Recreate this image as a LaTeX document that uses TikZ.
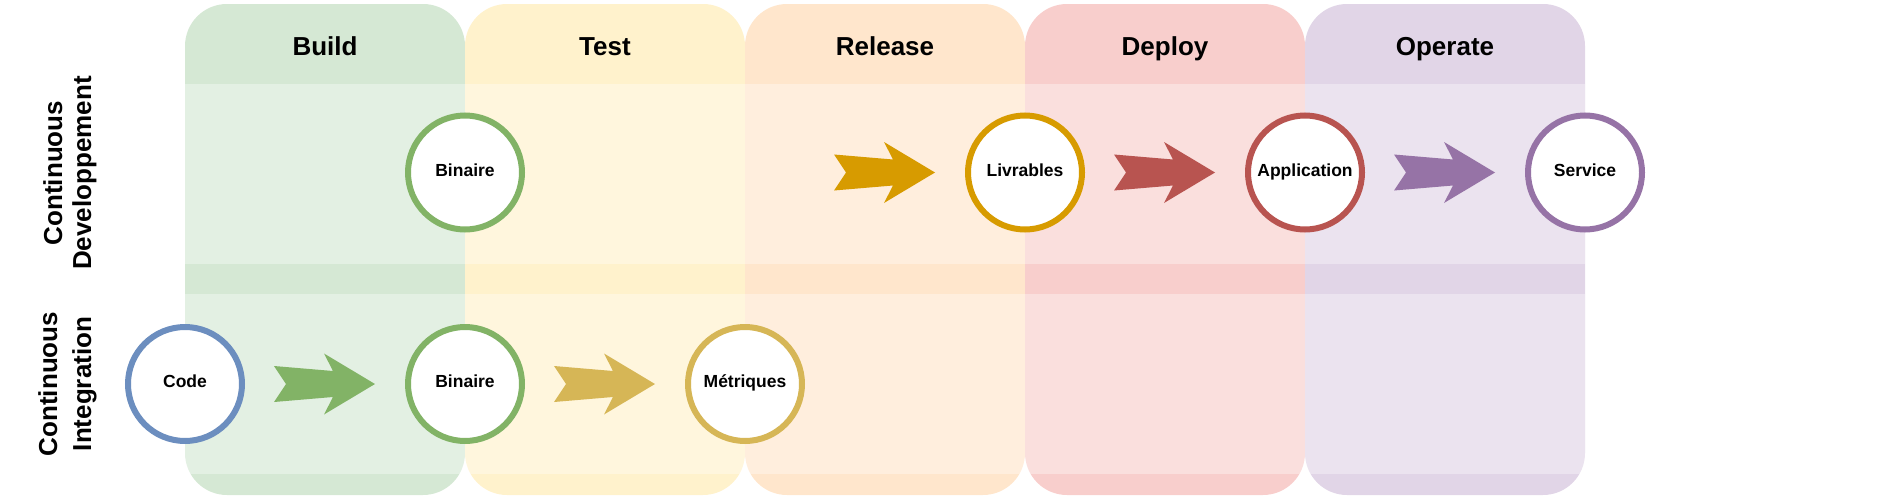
\documentclass[tikz,border=0pt]{standalone}
\usepackage{fontspec}
\setmainfont{Liberation Sans}
\usetikzlibrary{calc}
\definecolor{gF}{HTML}{D5E8D4}
\definecolor{yF}{HTML}{FFF2CC}
\definecolor{oF}{HTML}{FFE6CC}
\definecolor{rF}{HTML}{F8CECC}
\definecolor{pF}{HTML}{E1D5E7}
\definecolor{gS}{HTML}{82B366}
\definecolor{yS}{HTML}{D6B656}
\definecolor{oS}{HTML}{D79B00}
\definecolor{rS}{HTML}{B85450}
\definecolor{pS}{HTML}{9673A6}
\definecolor{bS}{HTML}{6C8EBF}
\begin{document}
\begin{tikzpicture}[x=1pt,y=-1pt,
  col/.style={rounded corners=42pt},
  hdr/.style={font=\fontsize{26}{30}\selectfont\bfseries, anchor=base},
  side/.style={font=\fontsize{26}{30}\selectfont\bfseries, anchor=base, rotate=90},
  stage/.style={circle, draw=#1, line width=6pt, fill=white, minimum size=114pt,
    inner sep=0pt, font=\fontsize{17.5}{20}\selectfont\bfseries,
    text height=0.72em, text depth=0pt},
  fatarrow/.pic={\fill[#1] (0,-18) -- (59,-13) -- (50,-30.5) -- (101,0) -- (50,30.5) -- (59,13) -- (0,18) -- (12,0) -- cycle;}
]
\useasboundingbox (0,0) rectangle (1883,498);
% columns
\fill[gF, col] (185,4) rectangle (465,495);
\fill[yF, col] (465,4) rectangle (745,495);
\fill[oF, col] (745,4) rectangle (1025,495);
\fill[rF, col] (1025,4) rectangle (1305,495);
\fill[pF, col] (1305,4) rectangle (1585,495);
% lane bodies
\fill[white, opacity=0.35] (185,84) rectangle (1585,264);
\fill[white, opacity=0.35] (185,294) rectangle (1585,474);
% headers
\node[hdr] (hbuild) at (325,55) {Build};
\node[hdr] (htest) at (605,55) {Test};
\node[hdr] (hrel) at (885,55) {Release};
\node[hdr] (hdep) at (1165,55) {Deploy};
\node[hdr] (hop) at (1445,55) {Operate};
% side labels
\node[side] (cd1) at (62,173) {Continuous};
\node[side] (cd2) at (91,173) {Developpement};
\node[side] (ci1) at (57,384) {Continuous};
\node[side] (ci2) at (91,384) {Integration};
% stages
\node[stage=gS] (bin1) at (465,172.5) {Binaire};
\node[stage=oS] (livr) at (1025,172.5) {Livrables};
\node[stage=rS] (app) at (1305,172.5) {Application};
\node[stage=pS] (serv) at (1585,172.5) {Service};
\node[stage=bS] (code) at (185,384) {Code};
\node[stage=gS] (bin2) at (465,384) {Binaire};
\node[stage=yS] (met) at (745,384) {Métriques};
% arrows
\pic at ($(livr.center)+(-191,0)$) {fatarrow=oS};
\pic at ($(app.center)+(-191,0)$) {fatarrow=rS};
\pic at ($(serv.center)+(-191,0)$) {fatarrow=pS};
\pic at ($(bin2.center)+(-191,0)$) {fatarrow=gS};
\pic at ($(met.center)+(-191,0)$) {fatarrow=yS};
\end{tikzpicture}
\end{document}
